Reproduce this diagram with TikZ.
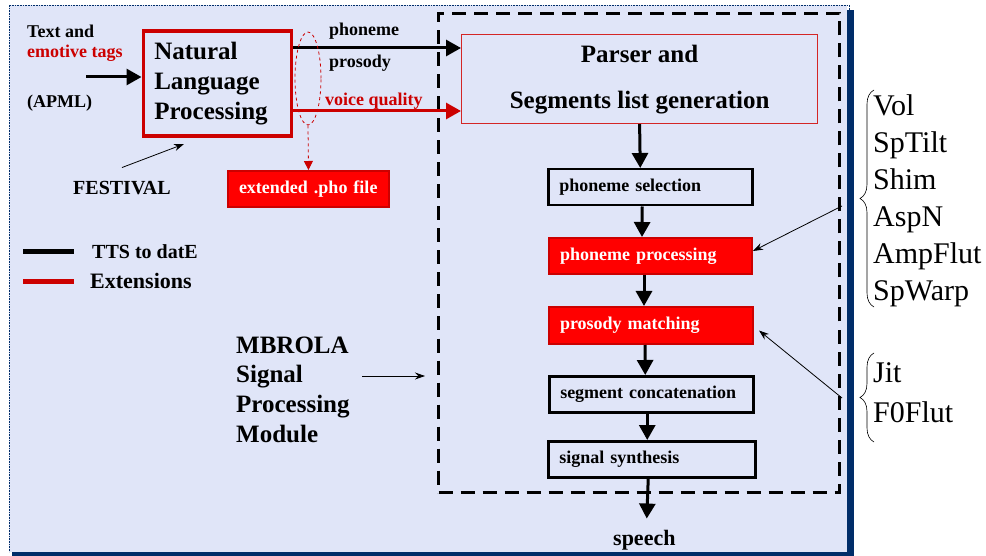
\documentclass[tikz,border=0pt]{standalone}
\usepackage{fontspec}
\setmainfont{Liberation Serif}
\usetikzlibrary{arrows.meta,shapes.geometric,decorations.pathreplacing}
\definecolor{bgpanel}{RGB}{224,229,248}
\definecolor{navyc}{RGB}{0,45,105}
\definecolor{myred}{RGB}{255,0,0}
\definecolor{darkred}{RGB}{204,0,0}
\begin{document}
\begin{tikzpicture}[x=1pt,y=-1pt,
  bigbold/.style={font=\bfseries\fontsize{25}{30}\selectfont},
  midbold/.style={font=\bfseries\fontsize{18}{20}\selectfont},
  lbl/.style={font=\bfseries\fontsize{18}{20}\selectfont, anchor=base west, inner sep=0pt},
  rlbl/.style={font=\fontsize{30}{37}\selectfont, anchor=north west, inner sep=0pt, align=left},
  bigarrow/.style={line width=3pt, -{Triangle[length=15pt,width=16pt]}},
  thinarrow/.style={line width=0.8pt, -{Stealth[length=10pt,width=7pt]}},
  flowbox/.style={anchor=north west, minimum height=36pt, inner xsep=11pt, align=left, midbold},
  blkbox/.style={flowbox, draw=black, line width=2.5pt},
  redbox/.style={flowbox, draw=darkred, fill=myred, line width=2pt, text=white},
  bracestyle/.style={decorate, decoration={brace, amplitude=14pt}, line width=0.6pt}
]
\useasboundingbox (0,0) rectangle (986,556);
% panel
\fill[bgpanel] (9,5) rectangle (847,552);
\fill[navyc] (847,10) rectangle (854,556);
\fill[navyc] (12,552) rectangle (854,556);
\draw[navyc, densely dotted, line width=0.6pt] (849,10) -- (849,5) -- (9,5) -- (9,552);

% module dashed frame
\node[draw=black, line width=3pt, dash pattern=on 14pt off 8pt, anchor=north west,
      minimum width=401pt, minimum height=479pt, inner sep=0pt] (mod) at (437,12) {};

% left inputs
\node[lbl] (txt) at (27,38) {Text and};
\node[lbl, text=darkred] (emo) at (27,58) {emotive tags};
\node[lbl] (apml) at (27,108) {(APML)};

% NLP
\node[draw=darkred, line width=3.5pt, anchor=north west, minimum width=148pt, minimum height=105pt,
      text width=126pt, inner xsep=11pt, align=left, bigbold] (nlp) at (141.5,29.5)
      {Natural\\Language\\Processing};
\coordinate (inl) at (86,77);
\draw[bigarrow] (inl) -- (inl -| nlp.west);

% FESTIVAL
\node[lbl, font=\bfseries\fontsize{20}{22}\selectfont] (fest) at (73,195) {FESTIVAL};
\coordinate (festtip) at (184,144);
\draw[thinarrow] ([yshift=14pt]fest.north) -- (festtip);

% Parser
\node[draw=darkred!85!white, line width=1.2pt, anchor=north west, minimum width=356pt,
      minimum height=89pt, align=center, font=\bfseries\fontsize{25}{46}\selectfont] (parser) at (461,34)
      {Parser and\\Segments list generation};

% NLP -> parser
\coordinate (phoy) at (0,48);
\coordinate (vqy) at (0,111);
\draw[bigarrow] (nlp.east |- phoy) -- (parser.west |- phoy);
\draw[bigarrow, darkred] (nlp.east |- vqy) -- (parser.west |- vqy);
\node[lbl] (lphon) at (329,36) {phoneme};
\node[lbl] (lpros) at (329,68) {prosody};
\node[lbl, text=darkred] (lvq) at (325,106) {voice quality};

% ellipse + extended .pho file
\node[ellipse, draw=darkred, dashed, line width=0.8pt, minimum width=26pt, minimum height=93pt, inner sep=0pt] (ell) at (308,78.5) {};
\node[redbox, minimum width=161pt, text width=139pt] (pho) at (227,170) {extended .pho file};
\draw[darkred, dashed, line width=0.8pt, -{Triangle[length=9pt,width=9pt]}] (ell.south) -- (pho.north);

% legend
\draw[line width=5pt] (23,252) -- (74,252);
\draw[darkred, line width=5pt] (23,282) -- (74,282);
\node[lbl, font=\bfseries\fontsize{20}{22}\selectfont] (legtts) at (92,259) {TTS to datE};
\node[lbl, font=\bfseries\fontsize{22}{24}\selectfont] (legext) at (90,289) {Extensions};

% flow boxes
\node[blkbox, minimum width=204pt, text width=182pt] (sel) at (547,168) {phoneme selection};
\node[redbox, minimum width=203pt, text width=181pt] (proc) at (548,237) {phoneme processing};
\node[redbox, minimum width=204pt, minimum height=37pt, text width=182pt] (pros) at (548,306) {prosody matching};
\node[blkbox, minimum width=204pt, text width=182pt] (seg) at (548,375) {segment concatenation};
\node[blkbox, minimum width=207pt, text width=185pt] (syn) at (547,440) {signal synthesis};
\node[lbl, font=\bfseries\fontsize{22}{24}\selectfont] (speech) at (613,545) {speech};

\draw[bigarrow] (parser.south) -- ([xshift=-10pt]sel.north);
\draw[bigarrow] ([xshift=-8pt]sel.south) -- ([xshift=-8.5pt]proc.north);
\draw[bigarrow] ([xshift=-6.5pt]proc.south) -- ([xshift=-7pt]pros.north);
\draw[bigarrow] ([xshift=-6pt]pros.south) -- ([xshift=-6pt]seg.north);
\draw[bigarrow] ([xshift=-4pt]seg.south) -- ([xshift=-4.5pt]syn.north);
\draw[bigarrow, shorten >=11pt] ([xshift=-3.5pt]syn.south) -- ([xshift=2pt]speech.north);

% MBROLA
\node[anchor=north west, inner sep=0pt, align=left, font=\bfseries\fontsize{25}{29.7}\selectfont] (mbrola) at (236,336.5)
  {MBROLA\\Signal\\Processing\\Module};
\coordinate (mbs) at (362,376);
\coordinate (mbe) at (425,376);
\draw[thinarrow] (mbs) -- (mbe);

% right parameter lists
\draw[bracestyle] (874,307) -- (874,90);
\draw[bracestyle] (874,442) -- (874,353);
\node[rlbl] (vq) at (873,94.5) {Vol\\SpTilt\\Shim\\AspN\\AmpFlut\\SpWarp};
\node[rlbl, font=\fontsize{30}{40}\selectfont] (pq) at (873,362.5) {Jit\\F0Flut};
\coordinate (b1) at (842,206);
\coordinate (b2) at (842,398);
\draw[thinarrow] (b1) -- ([yshift=5pt]proc.east);
\draw[thinarrow] (b2) -- ([xshift=5pt,yshift=-5pt]pros.east);
\end{tikzpicture}
\end{document}
